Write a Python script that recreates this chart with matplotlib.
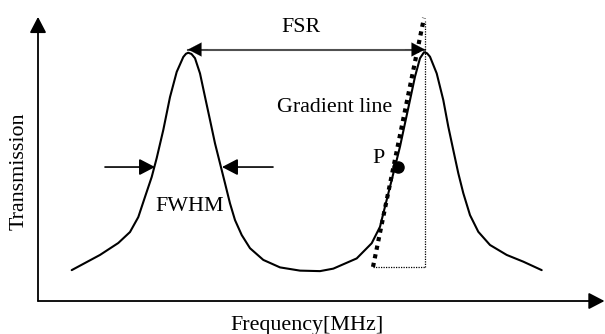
"""
Fabry-Perot style transmission sketch: two resonance peaks with FSR, FWHM
and the gradient (tangent) line through the working point P.
Output: out.png (605x334)
"""
import matplotlib
matplotlib.use("Agg")
import matplotlib.pyplot as plt

plt.rcParams.update({
    "font.family": ["Liberation Serif", "DejaVu Serif"],
    "font.size": 15.8,
})

# transmission curve (frequency in arbitrary units, T normalised to peak)
freq = [3.37, 6.20, 8.03, 9.20, 10.03, 10.70, 11.37, 11.87, 12.53, 13.20, 13.87, 14.53,
        14.80, 15.03, 15.35, 15.70, 16.20, 16.70, 17.20, 17.70, 18.20, 18.70, 19.20,
        19.70, 20.37, 21.20, 22.53, 24.20, 26.20, 28.20, 29.53, 31.87, 33.37, 34.20,
        34.70, 35.20, 35.70, 36.20, 36.70, 37.20, 37.70, 38.20, 38.60, 38.90, 39.20,
        39.87, 40.53, 41.03, 41.53, 42.03, 42.53, 43.20, 44.03, 45.20, 46.87, 48.53,
        50.37]
trans = [0.124, 0.185, 0.233, 0.277, 0.337, 0.418, 0.498, 0.574, 0.687, 0.819, 0.920, 0.980,
         0.993, 0.997, 0.992, 0.975, 0.914, 0.820, 0.727, 0.633, 0.553, 0.473, 0.392,
         0.325, 0.265, 0.212, 0.165, 0.135, 0.122, 0.120, 0.130, 0.171, 0.232, 0.298,
         0.379, 0.459, 0.539, 0.620, 0.714, 0.807, 0.901, 0.975, 0.999, 0.995, 0.981,
         0.914, 0.807, 0.700, 0.606, 0.513, 0.433, 0.345, 0.278, 0.225, 0.185, 0.158,
         0.124]

peak_f = [15.0, 38.7]
fsr_t = 1.010
half_level = 0.538
gradient_f = [33.5, 38.6]
gradient_t = [0.137, 1.137]
p_point = (36.0, 0.538)
base_t = 0.137
guide_top = 1.125

fig = plt.figure(figsize=(6.05, 3.34), dpi=100)
ax = fig.add_axes([0, 0, 1, 1])
ax.set_xlim(-3.8, 56.7)
ax.set_ylim(-0.1325, 1.2088)
ax.axis("off")

head = dict(mutation_scale=20, shrinkA=0, shrinkB=0)
style = "-|>,head_length=0.48,head_width=0.25"

# axes with arrow heads
ax.annotate("", xy=(0, 1.141), xytext=(0, 0),
            arrowprops=dict(arrowstyle=style, color="black", lw=1.3, **head))
ax.annotate("", xy=(56.65, 0), xytext=(0, 0),
            arrowprops=dict(arrowstyle=style, color="black", lw=1.3, **head))

ax.plot(freq, trans, color="black", lw=1.5, solid_joinstyle="round",
        solid_capstyle="round")

# FSR arrow between the peaks (grey shaft, black heads)
ax.plot(peak_f, [fsr_t, fsr_t], color="#505050", lw=1.5)
ax.annotate("", xy=(peak_f[0], fsr_t), xytext=(peak_f[0] + 2, fsr_t),
            arrowprops=dict(arrowstyle=style, color="black", lw=0.1, **head))
ax.annotate("", xy=(peak_f[1], fsr_t), xytext=(peak_f[1] - 2, fsr_t),
            arrowprops=dict(arrowstyle=style, color="black", lw=0.1, **head))
ax.text(26.3, 1.080, "FSR", ha="center", va="baseline")

# FWHM arrows
ax.annotate("", xy=(11.7, half_level), xytext=(6.7, half_level),
            arrowprops=dict(arrowstyle=style, color="black", lw=1.2, **head))
ax.annotate("", xy=(18.4, half_level), xytext=(23.5, half_level),
            arrowprops=dict(arrowstyle=style, color="black", lw=1.2, **head))
ax.text(11.7, 0.361, "FWHM", ha="left", va="baseline")

# gradient line and guides
ax.plot(gradient_f, gradient_t, color="black", lw=3.0, ls=(0, (1, 1.1)),
        dash_capstyle="butt")
ax.plot([peak_f[1], peak_f[1]], [base_t, guide_top], color="black", lw=0.9,
        ls=(0, (1, 1)))
ax.plot([gradient_f[0], peak_f[1]], [base_t, base_t], color="black", lw=0.9,
        ls=(0, (1, 1)))
ax.plot(*p_point, marker="o", ms=8, color="black")
ax.text(23.9, 0.759, "Gradient line", ha="left", va="baseline")
ax.text(33.4, 0.556, "P", ha="left", va="baseline")

ax.text(26.9, -0.116, "Frequency[MHz]", ha="center", va="baseline")
ax.text(-1.9, 0.522, "Transmission", ha="center", va="center", rotation=90)

fig.savefig("out.png", dpi=100)
